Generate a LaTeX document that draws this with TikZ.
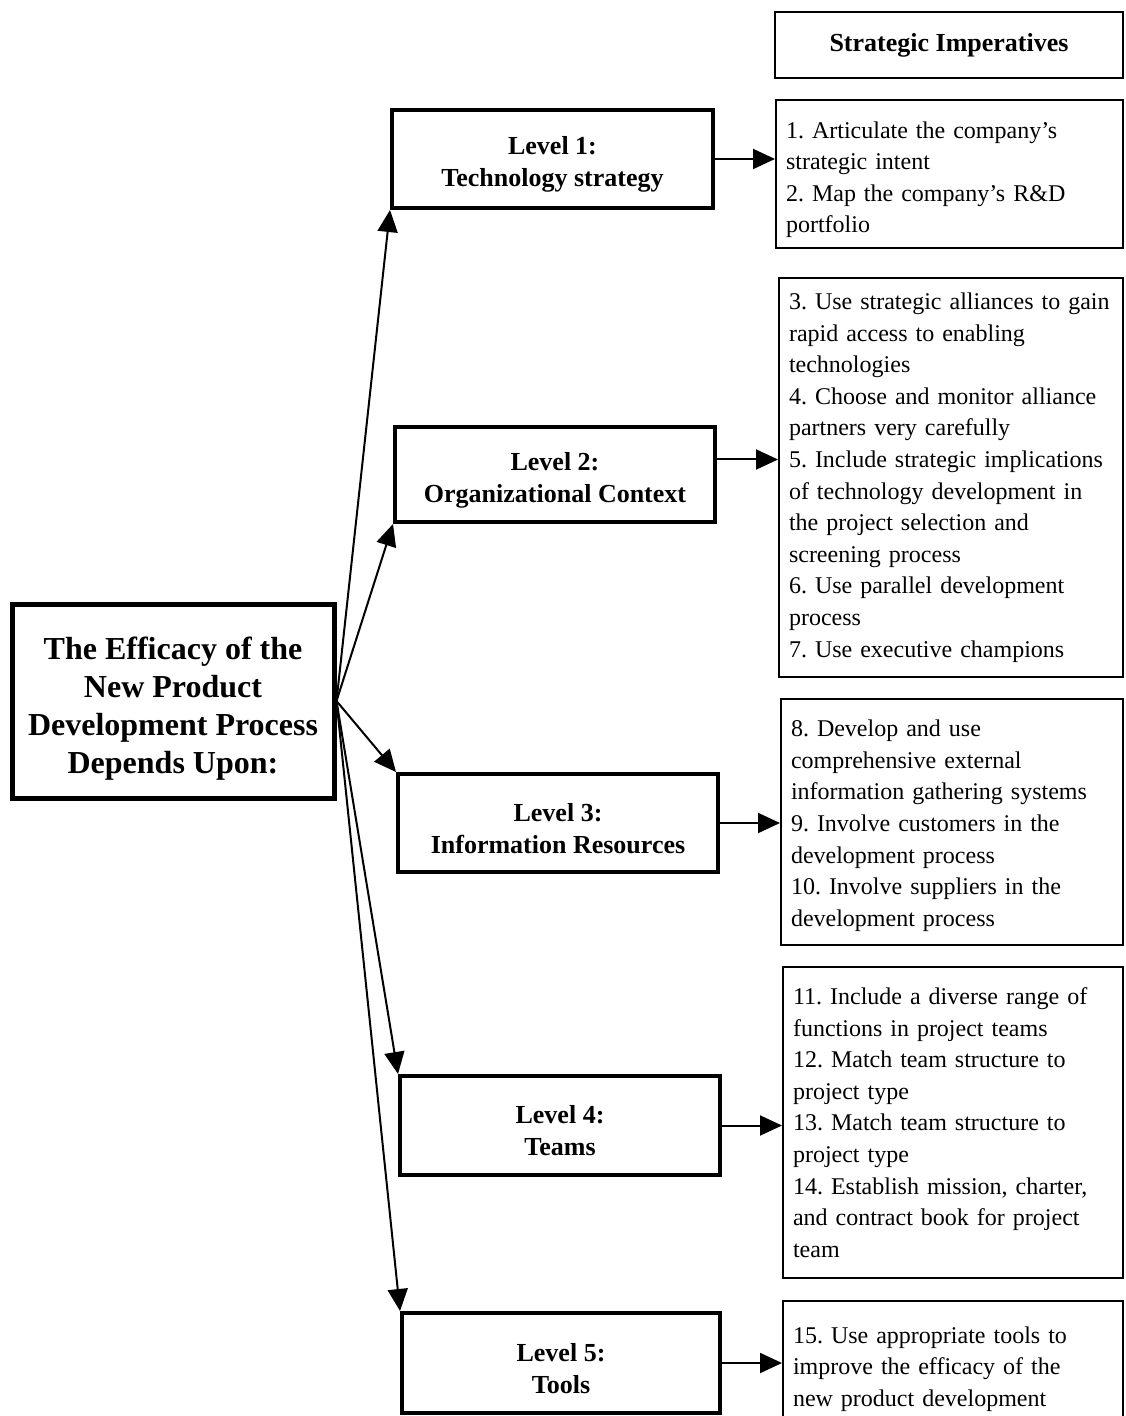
\documentclass[tikz,border=0pt]{standalone}
\usepackage{fontspec}
\setmainfont{Liberation Serif}
\usetikzlibrary{arrows.meta,calc}
\newcommand{\itemtextfont}{\fontsize{12}{15.8}\selectfont\frenchspacing\hyphenpenalty=10000\relax}
% invisible struts that give the first line of a box a little more room above
\newcommand{\levelpad}{\rule{0pt}{14.5pt}}
\newcommand{\mainpad}{\rule{0pt}{18.5pt}}
\begin{document}
\begin{tikzpicture}[x=0.5pt,y=-0.5pt,
  levelbox/.style={draw, line width=2pt, font=\bfseries\fontsize{13}{16}\selectfont,
    align=center, inner sep=0pt, minimum width=160pt, minimum height=49pt},
  itembox/.style={draw, line width=1pt, font=\itemtextfont,
    align=left, inner xsep=5pt, inner ysep=0pt},
  mainbox/.style={draw, line width=2.5pt, font=\bfseries\fontsize{16}{19}\selectfont,
    align=center, inner sep=0pt},
  headbox/.style={draw, line width=1pt, font=\bfseries\fontsize{13}{16}\selectfont,
    inner sep=0pt},
  link/.style={line width=1pt, -{Triangle[length=11pt,width=10pt]}}
]
\useasboundingbox (0,0) rectangle (1125,1416);
\clip (0,0) rectangle (1125,1416);

% central statement
\node[mainbox, minimum width=161pt, minimum height=97pt] (main) at (173,701)
  {\mainpad The Efficacy of the\\New Product\\Development Process\\Depends Upon:};

% the five levels
\node[levelbox, minimum width=160.5pt] (l1) at (552.5,159) {\levelpad Level 1:\\Technology strategy};
\node[levelbox, minimum height=47.5pt] (l2) at (555,474.5) {\levelpad Level 2:\\Organizational Context};
\node[levelbox] (l3) at (558,823) {\levelpad Level 3:\\Information Resources};
\node[levelbox, minimum height=49.5pt] (l4) at (560,1125.5) {\levelpad Level 4:\\Teams};
\node[levelbox, minimum width=159pt, minimum height=50pt] (l5) at (561,1363) {\levelpad Level 5:\\Tools};

% column heading
\node[headbox, minimum width=174pt, minimum height=33pt] (head) at (949,45) {Strategic Imperatives};

% strategic imperatives for each level
\node[itembox, minimum width=173.5pt, minimum height=74pt, text width=163.5pt] (b1) at (949.5,174)
  {\rule{0pt}{14pt}1. Articulate the company's\\strategic intent\\2. Map the company's R\&D\\portfolio};
\node[itembox, minimum width=172pt, minimum height=199.5pt, text width=162pt] (b2) at (951,477.5)
  {3. Use strategic alliances to gain\\rapid access to enabling\\technologies\\4. Choose and monitor alliance\\partners very carefully\\5. Include strategic implications\\of technology development in\\the project selection and\\screening process\\6. Use parallel development\\process\\7. Use executive champions};
\node[itembox, minimum width=171pt, minimum height=123pt, text width=161pt] (b3) at (952,822)
  {\rule{0pt}{12pt}8. Develop and use\\comprehensive external\\information gathering systems\\9. Involve customers in the\\development process\\10. Involve suppliers in the\\development process};
\node[itembox, minimum width=170pt, minimum height=155.5pt, text width=160pt] (b4) at (953,1122.5)
  {11. Include a diverse range of\\functions in project teams\\12. Match team structure to\\project type\\13. Match team structure to\\project type\\14. Establish mission, charter,\\and contract book for project\\team};
\node[itembox, minimum width=170pt, minimum height=68pt, text width=160pt] (b5) at (953,1369)
  {15. Use appropriate tools to\\improve the efficacy of the\\new product development};

% fan of arrows from the central statement
\draw[link] (main.east) -- (l1.south west);
\draw[link] (main.east) -- (l2.south west);
\draw[link] (main.east) -- (l3.north west);
\draw[link] (main.east) -- (l4.north west);
\draw[link] (main.east) -- (l5.north west);

% arrows from each level to its imperatives
\draw[link] (l1.east) -- (l1.east -| b1.west);
\draw[link] ($(l2.east)+(0,-15)$) -- ($(l2.east -| b2.west)+(0,-15)$);
\draw[link] (l3.east) -- (l3.east -| b3.west);
\draw[link] (l4.east) -- (l4.east -| b4.west);
\draw[link] (l5.east) -- (l5.east -| b5.west);
\end{tikzpicture}
\end{document}
